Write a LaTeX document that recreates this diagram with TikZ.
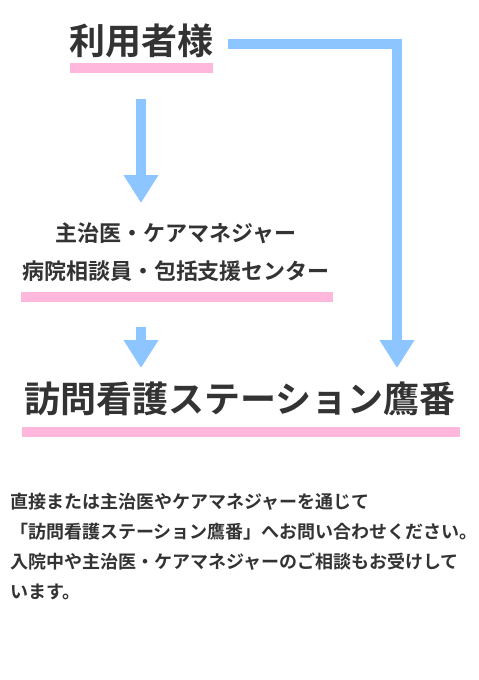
\documentclass[tikz,border=0pt]{standalone}
\usepackage{fontspec}
\setmainfont{Noto Sans CJK JP}[UprightFont = * Bold]
\usetikzlibrary{arrows.meta}
\definecolor{txt}{HTML}{333333}
\definecolor{arrowblue}{HTML}{8CC5FF}
\definecolor{barpink}{HTML}{FFB7DC}
\tikzset{
  lbl/.style={inner sep=0pt, outer sep=0pt, text=txt, anchor=base west},
  lblc/.style={inner sep=0pt, outer sep=0pt, text=txt, anchor=base},
  bigtxt/.style={font=\fontsize{36}{40}\selectfont},
  midtxt/.style={font=\fontsize{22}{26}\selectfont},
  bodytxt/.style={font=\fontsize{18}{22}\selectfont},
  bar/.style={fill=barpink, draw=none},
  flow/.style={draw=arrowblue, line width=10pt, line join=miter, line cap=butt,
    -{Triangle[width=33pt,length=28pt]}},
}
\begin{document}
\begin{tikzpicture}[x=1pt,y=-1pt]
\useasboundingbox (0,0) rectangle (479,680);
\fill[white] (0,0) rectangle (479,680);

% texts
\node[lbl, bigtxt] (user) at (69,54) {利用者様};
\node[lblc, midtxt] (mid1) at (176,241.3) {主治医・ケアマネジャー};
\node[lblc, midtxt] (mid2) at (176,279) {病院相談員・包括支援センター};
\node[lbl, bigtxt] (station) at (24,412) {訪問看護ステーション鷹番};

\node[lbl, bodytxt] (b1) at (10,508.5) {直接または主治医やケアマネジャーを通じて};
\node[lbl, bodytxt] (b2) at (10,538.5) {「訪問看護ステーション鷹番」へお問い合わせください。};
\node[lbl, bodytxt] (b3) at (10,568.5) {入院中や主治医・ケアマネジャーのご相談もお受けして};
\node[lbl, bodytxt] (b4) at (10,598.5) {います。};

% underline bars
\path[bar] (70,63) rectangle (213,73);
\path[bar] (21,292) rectangle (333,302);
\path[bar] (22,427) rectangle (460,437);

% arrow anchors
\coordinate (a1s) at (141,99);
\coordinate (a1e) at (141,203);
\coordinate (a2s) at (141,327);
\coordinate (a2e) at (141,368);
\coordinate (a3s) at (228,44);
\coordinate (a3c) at (397,44);
\coordinate (a3e) at (397,368);

\draw[flow] (a1s) -- (a1e);
\draw[flow] (a2s) -- (a2e);
\draw[flow] (a3s) -- (a3c) -- (a3e);
\end{tikzpicture}
\end{document}
